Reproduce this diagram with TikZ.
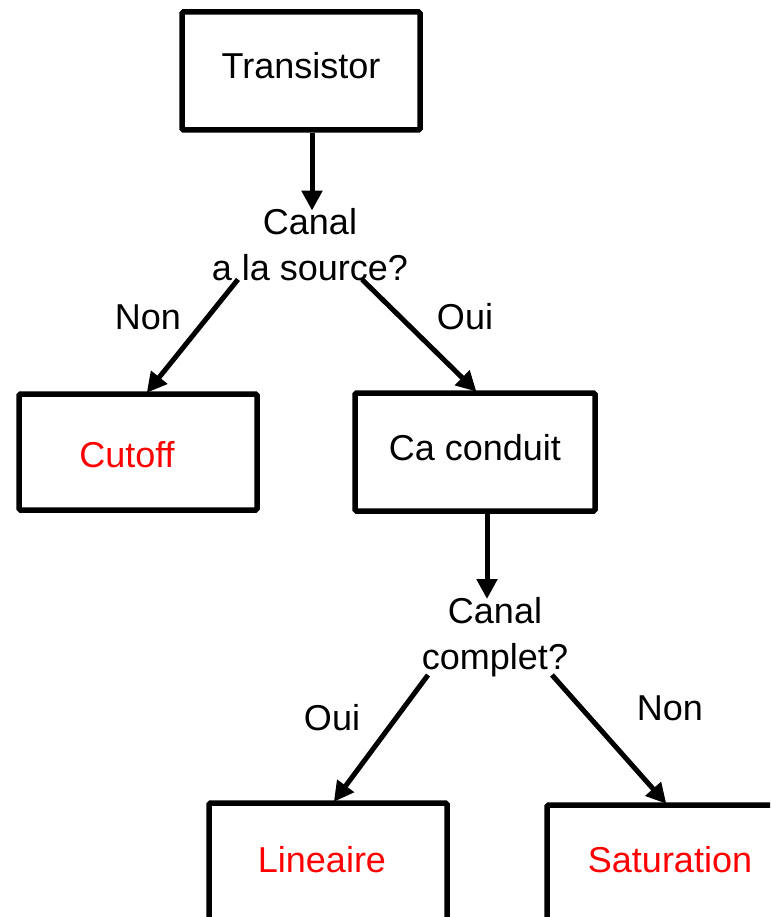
\documentclass[tikz,border=0pt]{standalone}
\usepackage{fontspec}
\setmainfont{Liberation Sans}
\usetikzlibrary{arrows.meta,calc}
\definecolor{pred}{RGB}{255,0,0}
\begin{document}
\begin{tikzpicture}[x=1pt,y=-1pt,
  every node/.style={font=\fontsize{36}{46}\selectfont},
  box/.style={draw,line width=5.5pt,rounded corners=1.5pt,minimum width=238pt,inner sep=0pt,anchor=center},
  qtext/.style={align=center,inner sep=0pt},
  lbl/.style={inner sep=0pt},
  arr/.style={line width=5pt,-{Triangle[length=20pt,width=20pt]},shorten >=-2pt}]
\useasboundingbox (0,0) rectangle (770,917);
\clip (0,0) rectangle (770,917);
\node[box,minimum height=118pt,label={[yshift=5pt]center:Transistor}] (tr) at (301,71) {};
\node[qtext] (d1) at (310,245) {Canal\\a la source?};
\node[box,minimum height=116pt,label={[text=pred,xshift=-11pt,yshift=-3pt]center:Cutoff}] (cut) at (138,452) {};
\node[box,minimum height=118pt,minimum width=240pt,label={[yshift=4pt]center:Ca conduit}] (cc) at (475,452) {};
\node[qtext] (d2) at (495,637) {Canal\\complet?};
\node[box,minimum height=118pt,label={[text=pred,xshift=-6pt,yshift=2pt]center:Lineaire}] (lin) at (328,862) {};
\node[box,minimum height=118pt,label={[text=pred,xshift=4pt,yshift=4pt]center:Saturation}] (sat) at (666,864) {};
\node[lbl] (l1) at (148,317) {Non};
\node[lbl] (l2) at (465,317) {Oui};
\node[lbl] (l3) at (332,718) {Oui};
\node[lbl] (l4) at (670,708) {Non};
\draw[arr] ([xshift=11pt]tr.south) -- ([xshift=2pt]d1.north);
\draw[arr] ([xshift=-72pt,yshift=2pt]d1.south) -- ([xshift=10pt]cut.north);
\draw[arr] ([xshift=52pt,yshift=2pt]d1.south) -- (cc.north);
\draw[arr] ([xshift=12pt]cc.south) -- ([xshift=-8pt]d2.north);
\draw[arr] ([xshift=-67pt,yshift=2pt]d2.south) -- ([xshift=7pt]lin.north);
\draw[arr] ([xshift=57pt,yshift=2pt]d2.south) -- ([xshift=-1pt]sat.north);
\end{tikzpicture}
\end{document}
